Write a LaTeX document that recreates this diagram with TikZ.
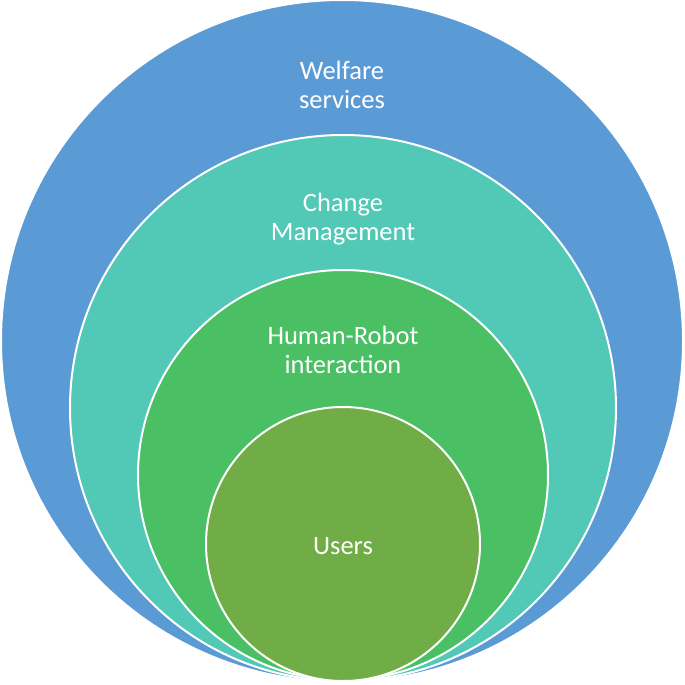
\documentclass[tikz,border=0pt]{standalone}
\usepackage{fontspec}
\setmainfont{Carlito}
\definecolor{cblue}{HTML}{5B9BD5}
\definecolor{cteal}{HTML}{52C9B6}
\definecolor{cgreen}{HTML}{4ABF64}
\definecolor{colive}{HTML}{70AD47}
\begin{document}
\begin{tikzpicture}[x=1pt,y=-1pt,
  ring/.style={circle,draw=white,line width=2pt,inner sep=0pt},
  lbl/.style={text=white,font=\fontsize{26.5}{29.5}\selectfont,align=center}]
\useasboundingbox (0,0) rectangle (685,685);
\node[ring,fill=cblue,minimum size=682pt] (c1) at (342,341) {};
\node[ring,fill=cteal,minimum size=546pt] (c2) at (343,408) {};
\node[ring,fill=cgreen,minimum size=410pt] (c3) at (343,475) {};
\node[ring,fill=colive,minimum size=274pt] (c4) at (343,544) {};
\node[lbl] (t1) at (342,85) {Welfare\\services};
\node[lbl] (t2) at (343,219) {Change\\Management};
\node[lbl] (t3) at (343,350) {Human-Robot\\interaction};
\node[lbl] (t4) at (343,546) {Users};
\end{tikzpicture}
\end{document}
